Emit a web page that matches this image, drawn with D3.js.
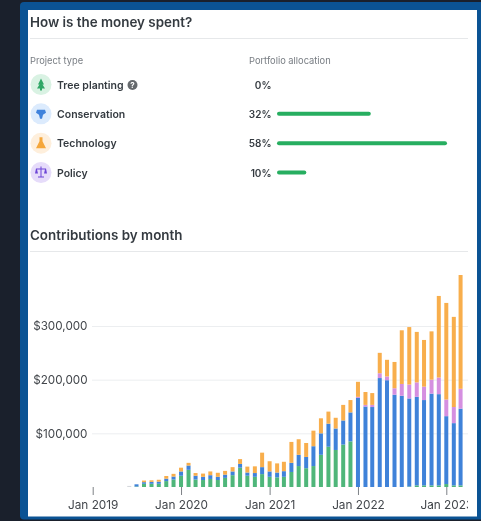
<!DOCTYPE html>
<html lang="en">
  <head>
    <meta charset="UTF-8" />
    <title>How is the money spent?</title>
    <style>
      html, body { margin: 0; padding: 0; background: #1a202c; overflow: hidden; }
      svg { display: block; font-family: Inter, sans-serif; filter: blur(0.35px); }
    </style>
  </head>
  <body>
    <div id="container"></div>
    <script src="https://cdn.jsdelivr.net/npm/d3@7"></script>
    <script>
      // allocation table
      const projectTypes = ['Tree planting', 'Conservation', 'Technology', 'Policy']
      const allocation = [0, 32, 58, 10]
      const iconBg = ['#d9f2e3', '#dcebfd', '#feefdc', '#e6dcfa']
      const iconFg = ['#2fa766', '#3f82dc', '#f5a73b', '#6d45d6']

      // monthly contributions in $1000s, Jun 2019 - Mar 2023
      const firstMonth = new Date(2019, 5, 1)
      const other = [2]
      const treePlanting = [0, 1, 6, 6, 6, 11, 14, 21, 32, 14, 13, 15, 13, 17, 22, 36, 21, 19, 24, 19, 18, 19, 28, 39, 35, 39, 60, 75, 69, 79, 85, 0, 0, 0, 0, 0, 0, 0, 1, 3, 3, 3, 3, 5.5, 3, 3]
      const conservation = [0, 4, 3, 3.5, 4, 4.5, 5.5, 8, 8, 7, 6, 7, 6, 6, 7, 7, 6, 7, 13, 10, 9, 10.5, 17, 21, 21, 37, 40, 43, 40, 45, 54, 166, 150, 149, 203, 199, 172, 170, 164, 165, 159, 171, 170, 126.5, 116, 143]
      const policy = [0, 0, 0, 0, 0, 0, 0, 0, 0, 0, 0, 0, 0, 0, 0, 0, 0, 0, 0, 0, 0, 0, 0, 0, 0, 0, 0, 0, 0, 0, 0, 2, 3, 4, 9, 7, 12, 22, 26, 27, 25, 26, 31, 31, 30, 37]
      const technology = [0, 0, 3, 3, 3.5, 5, 5, 7, 5, 5, 6, 7, 7.5, 7, 8, 9, 11, 12.5, 27, 19, 17, 17.5, 39, 29, 26, 29, 28, 22.5, 20, 29, 23, 28, 24, 22, 38, 31, 49, 100, 107, 94, 87, 90, 152, 180, 168, 212]

      const yTicks = [100000, 200000, 300000]
      const xTickYears = [2019, 2020, 2021, 2022, 2023]
      const seriesNames = ['other', 'treePlanting', 'conservation', 'policy', 'technology']
      const seriesColors = ['#d5d8dc', '#4fb67a', '#3f82d9', '#d58fe0', '#f8ae4c']

      const width = 481
      const height = 521
      const textDark = '#343a40'
      const textGray = '#777c82'
      const ruleColor = '#e6e8ea'

      const svg = d3.create('svg').attr('width', width).attr('height', height)

      // page background + blue frame + white card
      svg.append('rect').attr('x', 20).attr('y', 2).attr('width', 470).attr('height', 517.5).attr('rx', 4).attr('fill', '#0b5394')
      svg.append('rect').attr('x', 28).attr('y', 10).attr('width', 449).attr('height', 506.5).attr('fill', '#ffffff')

      const title = (txt, y) => svg.append('text').attr('x', 30).attr('y', y)
        .attr('font-size', 13.4).attr('font-weight', 600).attr('fill', textDark).text(txt)
      const rule = (y) => svg.append('line').attr('x1', 30).attr('x2', 468).attr('y1', y).attr('y2', y)
        .attr('stroke', ruleColor)

      title('How is the money spent?', 27)
      rule(38.5)

      svg.append('text').attr('x', 30).attr('y', 64).attr('font-size', 9.3).attr('fill', textGray).text('Project type')
      svg.append('text').attr('x', 249).attr('y', 64).attr('font-size', 9.3).attr('fill', textGray).text('Portfolio allocation')

      // allocation rows
      const rowY = d3.scalePoint().domain(projectTypes).range([84.5, 172.5])
      const allocX = d3.scaleLinear().domain([0, 58]).range([277, 447])

      const rows = svg.append('g').selectAll('g').data(projectTypes).join('g')
        .attr('transform', d => `translate(0, ${rowY(d)})`)

      rows.append('circle').attr('cx', 41).attr('r', 10.5).attr('fill', (d, i) => iconBg[i])
      rows.append('text').attr('x', 57).attr('y', 4).attr('font-size', 10.5).attr('font-weight', 600)
        .attr('fill', textDark).text(d => d)
      rows.append('text').attr('x', 271.5).attr('y', 4).attr('text-anchor', 'end').attr('font-size', 10)
        .attr('font-weight', 600).attr('fill', textDark).text((d, i) => allocation[i] + '%')
      rows.filter((d, i) => allocation[i] > 0).append('rect')
        .attr('x', allocX(0)).attr('y', -2).attr('height', 4).attr('rx', 2)
        .attr('width', d => allocX(allocation[projectTypes.indexOf(d)]) - allocX(0))
        .attr('fill', '#27ae60')

      // small icons
      const icons = [
        'M41 -6 L44 0 L42.5 0 L45 4 L42 4 L42 6 L40 6 L40 4 L37 4 L39.5 0 L38 0 Z',
        'M37 -4 L45 -4 L46 -1 L43 1 L42 5 L40 5 L39 1 L36 -1 Z',
        'M39.5 -6 L42.5 -6 L42.5 -2 L46 5 L36 5 L39.5 -2 Z',
        'M40.5 -6 L41.5 -6 L41.5 -4 L46 -4 L47 1 L44 1 L45 -3 L41.5 -3 L41.5 4 L44 4 L44 5 L38 5 L38 4 L40.5 4 L40.5 -3 L37 -3 L38 1 L35 1 L36 -4 L40.5 -4 Z'
      ]
      rows.append('path').attr('d', (d, i) => icons[i]).attr('fill', (d, i) => iconFg[i])

      // help badge next to tree planting
      const help = svg.append('g').attr('transform', `translate(132.5, ${rowY('Tree planting') + 0.5})`)
      help.append('circle').attr('r', 5).attr('fill', '#666a6e')
      help.append('text').attr('y', 3).attr('text-anchor', 'middle').attr('font-size', 8).attr('font-weight', 700)
        .attr('fill', '#fff').text('?')

      title('Contributions by month', 240)
      rule(251.5)

      // monthly chart
      const months = d3.range(treePlanting.length).map(i => d3.timeMonth.offset(firstMonth, i))
      const table = months.map((m, i) => ({
        month: m,
        other: other[i] || 0,
        treePlanting: treePlanting[i],
        conservation: conservation[i],
        policy: policy[i],
        technology: technology[i]
      }))

      const xScale = d3.scaleTime()
        .domain([new Date(2019, 0, 1), new Date(2023, 0, 1)])
        .range([92.7, 446.3])
      const yScale = d3.scaleLinear().domain([0, 300000]).range([487, 326])

      // grid
      svg.append('g').selectAll('line').data(yTicks).join('line')
        .attr('x1', 92).attr('x2', 468)
        .attr('y1', d => yScale(d) + 0.5).attr('y2', d => yScale(d) + 0.5)
        .attr('stroke', '#eceef0')

      const stack = d3.stack().keys(seriesNames)(table)
      const barW = 4

      svg.append('g').selectAll('g').data(stack).join('g')
        .attr('fill', (d, i) => seriesColors[i])
        .selectAll('rect').data(d => d).join('rect')
        .attr('x', d => xScale(d.data.month) - barW / 2)
        .attr('width', barW)
        .attr('y', d => yScale(d[1] * 1000))
        .attr('height', d => yScale(d[0] * 1000) - yScale(d[1] * 1000))

      // y labels
      const yAxis = svg.append('g').attr('transform', 'translate(87.5, 0)')
        .call(d3.axisLeft(yScale).tickValues(yTicks).tickSize(0).tickFormat(d3.format('$,')))
      yAxis.select('.domain').remove()
      yAxis.selectAll('text').attr('x', 0).attr('font-size', 11.7).attr('font-family', 'Inter, sans-serif').attr('fill', '#43474c')

      // x axis, clipped the way the card clips Jan 2023
      svg.append('clipPath').attr('id', 'x-clip').append('rect')
        .attr('x', 28).attr('y', 480).attr('width', 440).attr('height', 40)
      const xAxis = svg.append('g').attr('clip-path', 'url(#x-clip)').append('g')
        .attr('transform', 'translate(0, 487)')
        .call(d3.axisBottom(xScale)
          .tickValues(xTickYears.map(y => new Date(y, 0, 1)))
          .tickSize(8)
          .tickPadding(6)
          .tickFormat(d3.timeFormat('%b %Y')))
      xAxis.select('.domain').remove()
      xAxis.selectAll('line').attr('stroke', '#7d8186')
      xAxis.selectAll('text').attr('font-size', 11.8).attr('font-family', 'Inter, sans-serif').attr('fill', '#43474c')

      document.getElementById('container').append(svg.node())
    </script>
  </body>
</html>
